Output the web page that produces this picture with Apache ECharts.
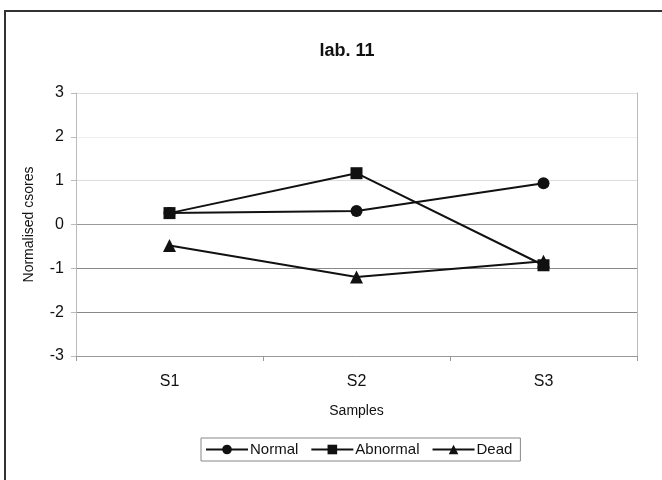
<!DOCTYPE html>
<html><head><meta charset="utf-8">
<script src="https://cdn.jsdelivr.net/npm/echarts@6/dist/echarts.min.js"></script>
<style>html,body{margin:0;padding:0;background:#fff}#c{width:662px;height:480px}</style>
</head><body><div id="c"></div>
<script>
var categories = ['S1', 'S2', 'S3'];
var normal = [0.26, 0.31, 0.94];
var abnormal = [0.26, 1.17, -0.93];
var dead = [-0.48, -1.2, -0.84];
var yTicks = [-3, -2, -1, 0, 1, 2, 3];

var chart = echarts.init(document.getElementById('c'));
var font = 'Liberation Sans, Arial, sans-serif';
function s(name, data, sym, size) {
  return {name: name, type: 'line', data: data, symbol: sym, symbolSize: size,
    lineStyle: {color: '#111', width: 2}, itemStyle: {color: '#111'}, z: 3};
}
chart.setOption({
  animation: false,
  title: {text: 'lab. 11', left: 342, top: 37, textAlign: 'center',
    textStyle: {fontFamily: font, fontSize: 18, fontWeight: 'bold', color: '#111'}},
  grid: {left: 76, right: 25, top: 93, bottom: 124},
  graphic: [{type: 'rect', shape: {x: 5, y: 11, width: 700, height: 500},
    style: {fill: 'none', stroke: '#333', lineWidth: 2}}],
  xAxis: {type: 'category', data: categories, boundaryGap: true,
    name: 'Samples', nameLocation: 'middle', nameGap: 48,
    nameTextStyle: {fontFamily: font, fontSize: 14, color: '#111'},
    axisLine: {onZero: false, lineStyle: {color: '#999'}},
    axisTick: {show: true, length: 5, lineStyle: {color: '#999'}},
    axisLabel: {fontFamily: font, fontSize: 16, color: '#111', margin: 18}},
  yAxis: [{type: 'value', min: -3, max: 3, interval: 1,
    name: 'Normalised csores', nameLocation: 'middle', nameGap: 40,
    nameTextStyle: {fontFamily: font, fontSize: 14, color: '#111'},
    axisLine: {show: true, lineStyle: {color: '#bbb'}},
    axisTick: {show: true, length: 5, lineStyle: {color: '#bbb'}},
    axisLabel: {fontFamily: font, fontSize: 16, color: '#111', margin: 12},
    splitLine: {show: true, lineStyle: {color: ['#ccc', '#888', '#888', '#999', '#ddd', '#eee', '#ddd'], width: 1.2}}},
   {type: 'value', min: -3, max: 3, interval: 1, position: 'right',
    axisLine: {show: true, lineStyle: {color: '#bbb'}},
    axisTick: {show: false}, axisLabel: {show: false}, splitLine: {show: false}}],
  legend: {data: ['Normal', 'Abnormal', 'Dead'], left: 201, top: 438,
    itemGap: 12, itemWidth: 42, itemHeight: 12,
    padding: [4, 8, 4, 4], borderColor: '#888', borderWidth: 1,
    textStyle: {fontFamily: font, fontSize: 15, color: '#111', padding: [0, 0, 0, -3]}},
  series: [s('Normal', normal, 'circle', 12), s('Abnormal', abnormal, 'rect', 12), s('Dead', dead, 'triangle', 13)]
});
</script></body></html>
